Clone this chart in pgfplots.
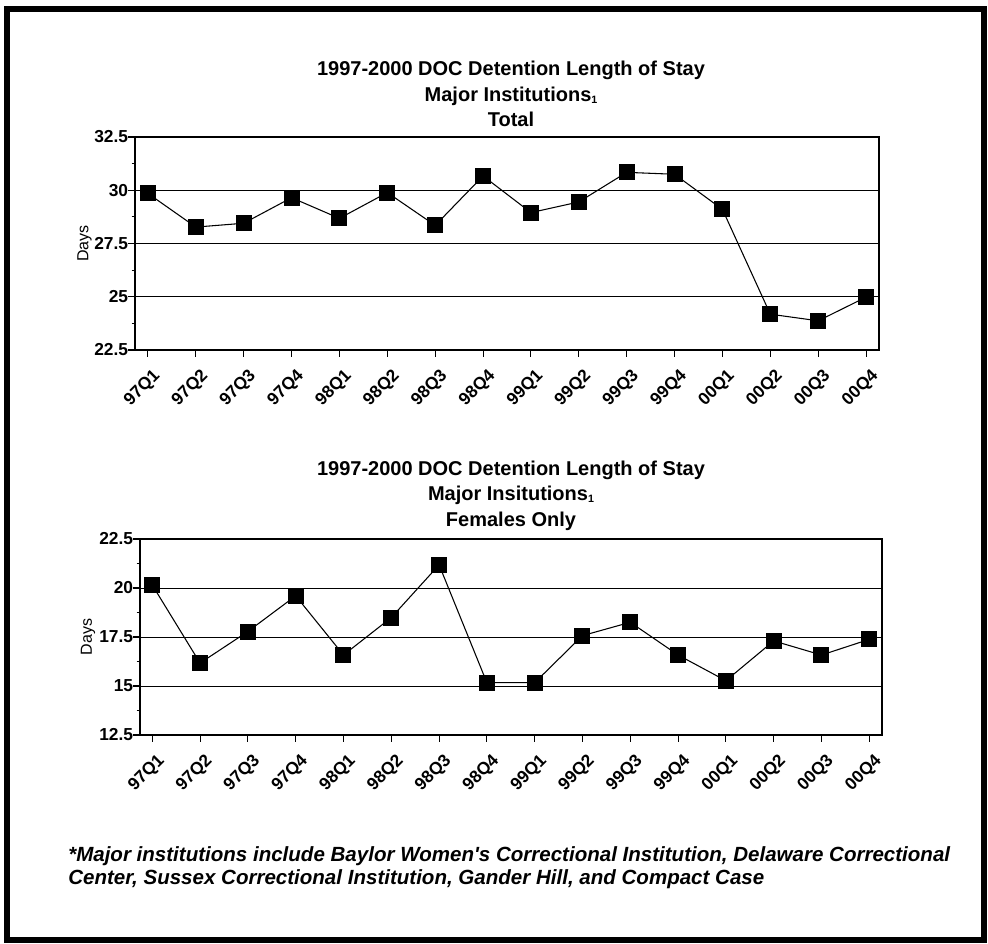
\documentclass[border=0pt]{standalone}
\usepackage{fontspec}
\setmainfont{Liberation Sans}
\usepackage{pgfplots}
\pgfplotsset{compat=1.18}

% common look of both panels
\pgfplotsset{
  docstyle/.style={
    scale only axis,
    xmin=-0.27, xmax=15.27,
    xtick={0,...,15},
    xticklabels={97Q1,97Q2,97Q3,97Q4,98Q1,98Q2,98Q3,98Q4,99Q1,99Q2,99Q3,99Q4,00Q1,00Q2,00Q3,00Q4},
    tick align=outside,
    tick pos=left,
    major tick length=5pt,
    minor tick length=2.5pt,
    minor y tick num=1,
    every tick/.style={black, line width=0.8pt},
    ymajorgrids,
    grid style={black, line width=0.6pt},
    axis line style={line width=1.2pt},
    tick label style={font=\fontsize{13}{13}\selectfont\bfseries},
    /pgf/number format/assume math mode=true,
    xticklabel style={inner sep=0pt, xshift=3pt, yshift=-8pt, rotate=45, anchor=north east},
    yticklabel style={inner sep=0pt},
    ylabel={Days},
    ylabel style={font=\fontsize{12}{12}\selectfont, anchor=center},
  },
  docline/.style={black, line width=0.8pt, mark=square*, mark size=5.6pt,
    mark options={solid, fill=black}},
}

\newcommand{\sub}{{\fontsize{8}{8}\selectfont\raisebox{-1pt}{1}}}

\begin{document}
\begin{tikzpicture}
\useasboundingbox (0,0) rectangle (741pt,708pt);
\draw[line width=4.5pt] (5.25pt,3pt) rectangle (738pt,701.25pt);

% titles
\begin{scope}[every node/.style={anchor=base, font=\fontsize{15}{15}\selectfont\bfseries, inner sep=0pt}]
\node at (383.25pt,651pt) {1997-2000 DOC Detention Length of Stay};
\node at (383.25pt,631.7pt) {Major Institutions\sub};
\node at (383.25pt,613pt) {Total};
\node at (383.25pt,351.2pt) {1997-2000 DOC Detention Length of Stay};
\node at (383.25pt,332.25pt) {Major Insitutions\sub};
\node at (383.25pt,313pt) {Females Only};
\end{scope}

\begin{axis}[docstyle,
  at={(101.25pt,445.5pt)}, anchor=south west,
  width=558pt, height=159.75pt,
  ymin=22.5, ymax=32.5,
  ytick={22.5,25,27.5,30,32.5},
  ylabel style={at={(axis description cs:-0.068,0.5)}},
]
\addplot[docline] coordinates {
(0,29.85) (1,28.27) (2,28.45) (3,29.65) (4,28.68) (5,29.89) (6,28.35) (7,30.67)
(8,28.95) (9,29.45) (10,30.84) (11,30.75) (12,29.10) (13,24.18) (14,23.87) (15,24.98)
};
\end{axis}

\begin{axis}[docstyle,
  at={(105pt,156.75pt)}, anchor=south west,
  width=556.5pt, height=147pt,
  xmin=-0.257, xmax=15.266,
  ymin=12.5, ymax=22.5,
  ytick={12.5,15,17.5,20,22.5},
  ylabel style={at={(axis description cs:-0.070,0.5)}},
]
\addplot[docline] coordinates {
(0,20.15) (1,16.17) (2,17.78) (3,19.60) (4,16.58) (5,18.49) (6,21.18) (7,15.17)
(8,15.17) (9,17.57) (10,18.25) (11,16.58) (12,15.27) (13,17.30) (14,16.58) (15,17.38)
};
\end{axis}

% footnote
\begin{scope}[every node/.style={anchor=base west, font=\fontsize{15.4}{15.4}\selectfont\bfseries\itshape, inner sep=0pt}]
\node at (51pt,61.5pt) {*Major institutions include Baylor Women\textquotesingle s Correctional Institution, Delaware Correctional};
\node at (51pt,44.25pt) {Center, Sussex Correctional Institution, Gander Hill, and Compact Case};
\end{scope}
\end{tikzpicture}
\end{document}
